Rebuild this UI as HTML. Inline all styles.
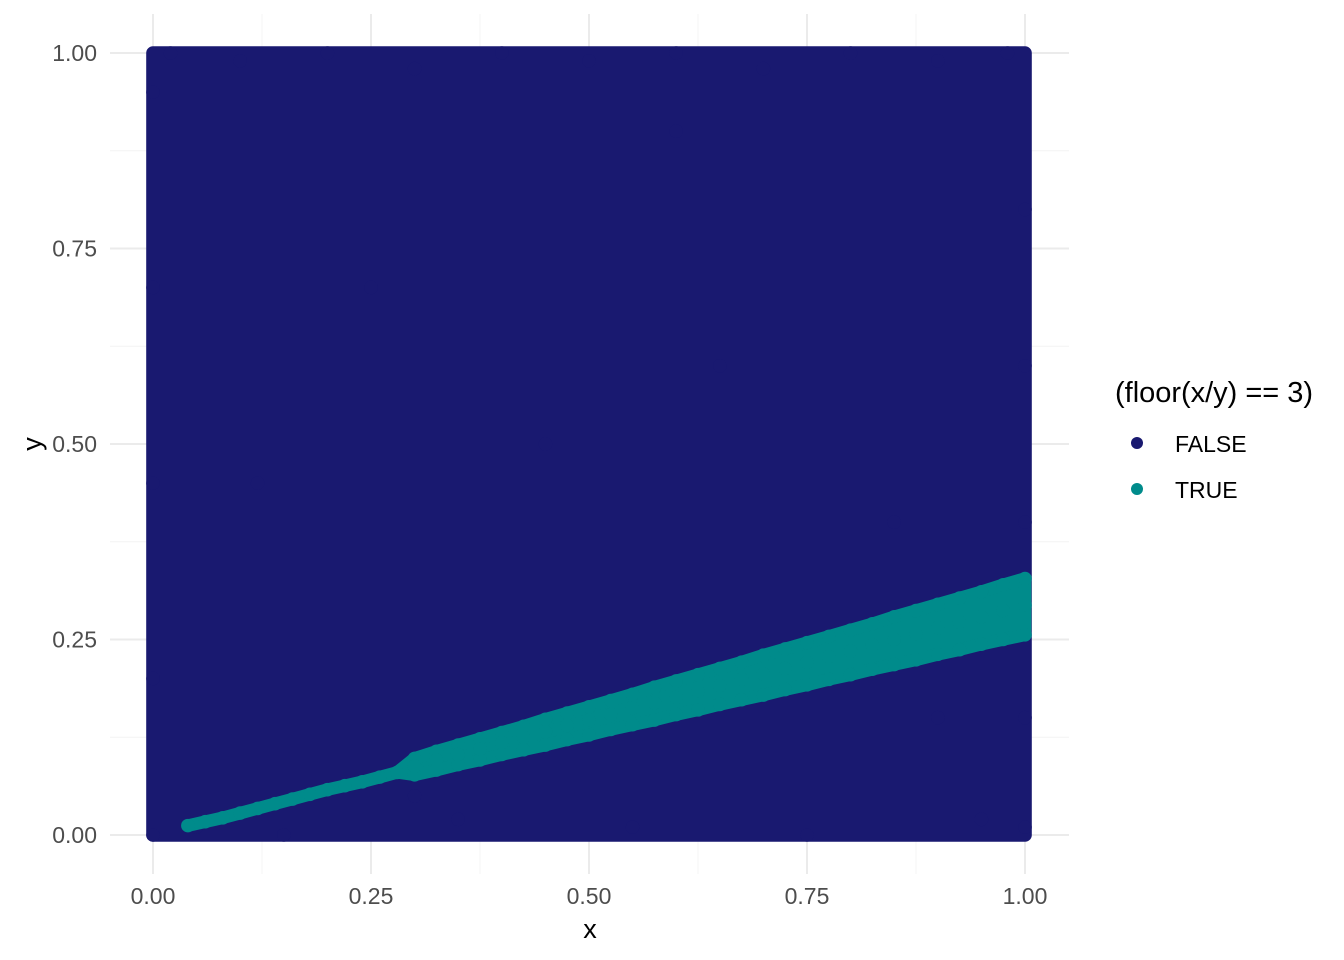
<!DOCTYPE html>
<html><head><meta charset="utf-8"><style>
body{margin:0;background:#fff;}
svg{display:block;font-family:"Liberation Sans",sans-serif;}
</style></head><body>
<svg id="chart" width="1344" height="960">
<g id="grid"></g>
<g id="marks"></g>
<g id="axes"></g>
<text x="590" y="938" font-size="27" text-anchor="middle" fill="#000">x</text>
<text transform="translate(41,444) rotate(-90)" font-size="27" text-anchor="middle" fill="#000">y</text>
<g>
<text x="1115" y="402" font-size="29" fill="#000" textLength="198">(floor(x/y) == 3)</text>
<g><circle cx="1137" cy="443" r="6" fill="#191970"/><text x="1175" y="452" font-size="23" fill="#000">FALSE</text></g>
<g><circle cx="1137" cy="489" r="6" fill="#008b8b"/><text x="1175" y="498" font-size="23" fill="#000">TRUE</text></g>
</g>
</svg>
<script>
const xTicks=[0,0.25,0.5,0.75,1];
const yTicks=[0,0.25,0.5,0.75,1];
const tickLabels=["0.00","0.25","0.50","0.75","1.00"];
// FALSE series (dense cloud; boundary sample)
const falseX=[0.0,0.02,0.1,0.2,0.3,0.4,0.5,0.6,0.7,0.8,0.9,0.98,1.0,1.0,1.0,1.0,1.0,0.0,0.0,0.0,0.0,0.05,0.15,0.35,0.55,0.75,0.95,0.45,0.65,0.85,0.25,0.12,0.6,0.9,0.3];
const falseY=[0.0,1.0,0.99,1.0,0.98,1.0,0.99,1.0,0.98,1.0,0.99,1.0,0.8,0.6,0.4,0.15,0.01,0.2,0.45,0.7,0.95,0.01,0.0,0.02,0.01,0.0,0.02,0.5,0.6,0.4,0.7,0.45,0.9,0.15,0.05];
// TRUE series (band between y ≈ x/4 and y ≈ x/3)
const trueX=[0.04,0.06,0.08,0.10,0.12,0.14,0.16,0.18,0.20,0.22,0.24,0.26,0.28,
0.3,0.325,0.35,0.375,0.4,0.425,0.45,0.475,0.5,0.525,0.55,0.575,0.6,0.625,0.65,0.675,0.7,0.725,0.75,0.775,0.8,0.825,0.85,0.875,0.9,0.925,0.95,0.975,1.0,
0.3,0.325,0.35,0.375,0.4,0.425,0.45,0.475,0.5,0.525,0.55,0.575,0.6,0.625,0.65,0.675,0.7,0.725,0.75,0.775,0.8,0.825,0.85,0.875,0.9,0.925,0.95,0.975,1.0,
0.3,0.325,0.35,0.375,0.4,0.425,0.45,0.475,0.5,0.525,0.55,0.575,0.6,0.625,0.65,0.675,0.7,0.725,0.75,0.775,0.8,0.825,0.85,0.875,0.9,0.925,0.95,0.975,1.0];
const trueY=[0.012,0.017,0.022,0.028,0.034,0.040,0.046,0.052,0.058,0.063,0.068,0.074,0.080,
0.098,0.107,0.115,0.123,0.131,0.139,0.148,0.156,0.164,0.172,0.180,0.189,0.197,0.205,0.213,0.221,0.230,0.238,0.246,0.254,0.262,0.270,0.279,0.287,0.295,0.303,0.311,0.320,0.328,
0.077,0.083,0.090,0.096,0.103,0.109,0.115,0.122,0.128,0.135,0.141,0.147,0.154,0.160,0.167,0.173,0.179,0.186,0.192,0.199,0.205,0.212,0.218,0.224,0.231,0.237,0.244,0.250,0.256,
0.088,0.096,0.103,0.110,0.118,0.125,0.132,0.140,0.147,0.154,0.162,0.169,0.176,0.184,0.191,0.199,0.206,0.213,0.221,0.228,0.235,0.243,0.250,0.257,0.265,0.272,0.279,0.287,0.294];
const trueRows=[13,29,29,29];
const X0=153,XW=872,Y0=835,YH=782,R=6.8;
const sx=v=>X0+v*XW, sy=v=>Y0-v*YH;
const NS="http://www.w3.org/2000/svg";
const grid=document.getElementById('grid'),marks=document.getElementById('marks'),axes=document.getElementById('axes');
function mk(t,a,p){const e=document.createElementNS(NS,t);for(const k in a)e.setAttribute(k,a[k]);p.appendChild(e);return e;}
for(let i=0;i<xTicks.length-1;i++){
 const m=(xTicks[i]+xTicks[i+1])/2;
 const l=mk('line',{x1:sx(m),x2:sx(m),y1:14,y2:874,stroke:'#f4f4f4','stroke-width':1},grid);
 
 
 const my=(yTicks[i]+yTicks[i+1])/2;
 const l2=mk('line',{x1:110,x2:1069,y1:sy(my),y2:sy(my),stroke:'#f4f4f4','stroke-width':1},grid);
 
 
}
xTicks.forEach((v,i)=>{
 const l=mk('line',{x1:sx(v),x2:sx(v),y1:14,y2:874,stroke:'#ebebeb','stroke-width':2},grid);
 
 
 const t=mk('text',{x:sx(v),y:904,'font-size':23,'text-anchor':'middle',fill:'#4d4d4d'},axes);
 t.textContent=tickLabels[i];
 
 
});
yTicks.forEach((v,i)=>{
 const l=mk('line',{x1:110,x2:1069,y1:sy(v),y2:sy(v),stroke:'#ebebeb','stroke-width':2},grid);
 
 
 const t=mk('text',{x:97,y:sy(v)+8,'font-size':23,'text-anchor':'end',fill:'#4d4d4d'},axes);
 t.textContent=tickLabels[i];
 
 
});
const fx0=Math.min(...falseX),fx1=Math.max(...falseX),fy0=Math.min(...falseY),fy1=Math.max(...falseY);
const cloud=mk('rect',{x:sx(fx0)-R,y:sy(fy1)-R,width:sx(fx1)-sx(fx0)+2*R,height:sy(fy0)-sy(fy1)+2*R,rx:R,fill:'#191970'},marks);


falseX.forEach((v,i)=>{
 const c=mk('circle',{cx:sx(v),cy:sy(falseY[i]),r:R,fill:'#191970'},marks);
 
 
});
// overlapping TRUE points merge into a continuous band: hull of upper & lower rows
const r0=[],rU=[],rL=[];
let s=0;
for(let i=0;i<trueRows[0];i++)r0.push(i); s+=trueRows[0];
for(let i=s;i<s+trueRows[1];i++)rU.push(i); s+=trueRows[1];
for(let i=s;i<s+trueRows[2];i++)rL.push(i);
const hull=r0.concat(rU).concat(rL.slice().reverse()).concat(r0.slice().reverse());
let d='';
hull.forEach((i,k)=>{d+=(k===0?'M':'L')+sx(trueX[i])+','+sy(trueY[i]);});
d+='Z';
const band=mk('path',{d:d,fill:'#008b8b',stroke:'#008b8b','stroke-width':2*R-1,'stroke-linejoin':'round'},marks);


trueX.forEach((v,i)=>{
 const c=mk('circle',{cx:sx(v),cy:sy(trueY[i]),r:R,fill:'#008b8b'},marks);
 
 
});
</script>
</body></html>
